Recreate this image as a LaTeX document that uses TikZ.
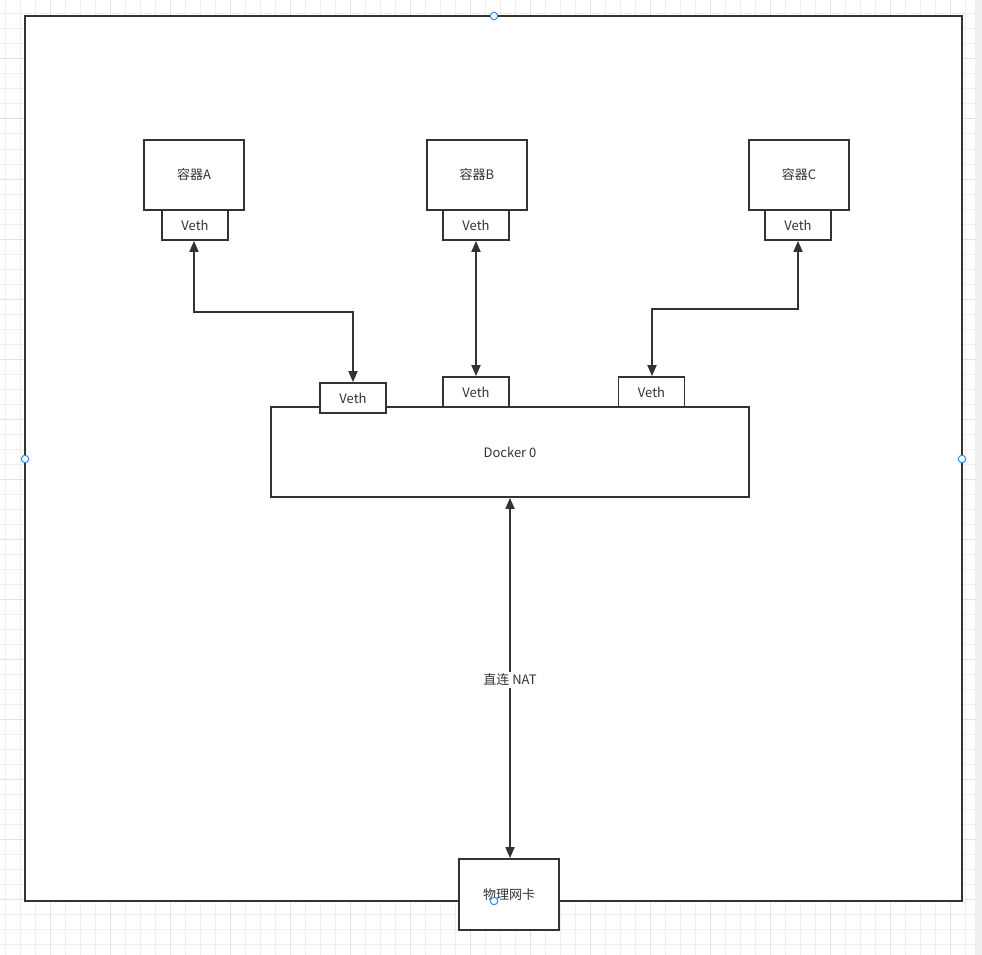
\documentclass[tikz,border=0pt]{standalone}
\usepackage{fontspec}
\setmainfont{Noto Sans CJK SC}
\usetikzlibrary{arrows.meta,calc}
\definecolor{ink}{HTML}{333333}
\definecolor{gridminor}{HTML}{EFEFEF}
\definecolor{gridmajor}{HTML}{E2E2E2}
\definecolor{handle}{HTML}{2A8CF0}
\definecolor{strip}{HTML}{F0F0F0}
\tikzset{
  box/.style={draw=ink, line width=1.8pt, fill=white, rectangle, inner sep=0pt,
    text=ink, font=\fontsize{13}{15}\selectfont},
  conn/.style={draw=ink, line width=1.8pt, {Triangle[length=11pt,width=9pt]}-{Triangle[length=11pt,width=9pt]}},
  hdl/.style={draw=handle, line width=1pt, fill=white, circle, inner sep=0pt, minimum size=7.5pt},
  lbl/.style={fill=white, text=ink, font=\fontsize{13}{15}\selectfont, inner sep=2pt}
}
\begin{document}
\begin{tikzpicture}[x=1pt,y=-1pt]
\useasboundingbox (0,0) rectangle (982,955);
\fill[white] (0,0) rectangle (982,955);
% grid
\foreach \x in {5,20,...,980} \draw[gridminor, line width=1pt] (\x,0) -- (\x,955);
\foreach \y in {14,29,...,955} \draw[gridminor, line width=1pt] (0,\y) -- (982,\y);
\foreach \x in {50,110,...,980} \draw[gridmajor, line width=1pt] (\x,0) -- (\x,955);
\foreach \y in {59,119,...,955} \draw[gridmajor, line width=1pt] (0,\y) -- (982,\y);
\fill[strip] (975,0) rectangle (982,955);
% host frame
\draw[ink, line width=1.8pt, fill=white] (25,16) rectangle (962,901);
\coordinate (ht) at (494,16);
\coordinate (hl) at (25,459);
\coordinate (hr) at (962,459);
\coordinate (hb) at (494,901);
% containers
\node[box, minimum width=100pt, minimum height=70pt] (ca) at (194,175) {容器A};
\node[box, minimum width=66pt, minimum height=30pt] (vetha) at (195,225) {Veth};
\node[box, minimum width=100pt, minimum height=70pt] (cb) at (477,175) {容器B};
\node[box, minimum width=66pt, minimum height=30pt] (vethb) at (476,225) {Veth};
\node[box, minimum width=100pt, minimum height=70pt] (cc) at (799,175) {容器C};
\node[box, minimum width=66pt, minimum height=30pt] (vethc) at (798,225) {Veth};
% docker bridge
\node[box, minimum width=478pt, minimum height=90pt] (docker) at (510,452) {Docker 0};
\node[box, minimum width=66pt, minimum height=30pt] (veth1) at (353,398) {Veth};
\node[box, minimum width=66pt, minimum height=30pt] (veth2) at (476,392) {Veth};
\node[box, minimum width=66pt, minimum height=30pt] (veth3) at (651.5,392) {Veth};
% physical NIC
\node[box, minimum width=100pt, minimum height=71pt] (nic) at (509,894.5) {物理网卡};
% connectors
\coordinate (ja) at (353,312);
\coordinate (jc) at (652,309);
\draw[conn] (vetha.south -| 194,0) |- (ja) -- (veth1.north);
\draw[conn] (vethb.south) -- (veth2.north);
\draw[conn] (vethc.south) |- (jc) -- (jc |- veth3.north);
\draw[conn] (docker.south) -- (docker.south |- nic.north) node[lbl, pos=0.505] {直连 NAT};
% selection handles
\node[hdl] at (ht) {};
\node[hdl] at (hl) {};
\node[hdl] at (hr) {};
\node[hdl] at (hb) {};
\end{tikzpicture}
\end{document}
